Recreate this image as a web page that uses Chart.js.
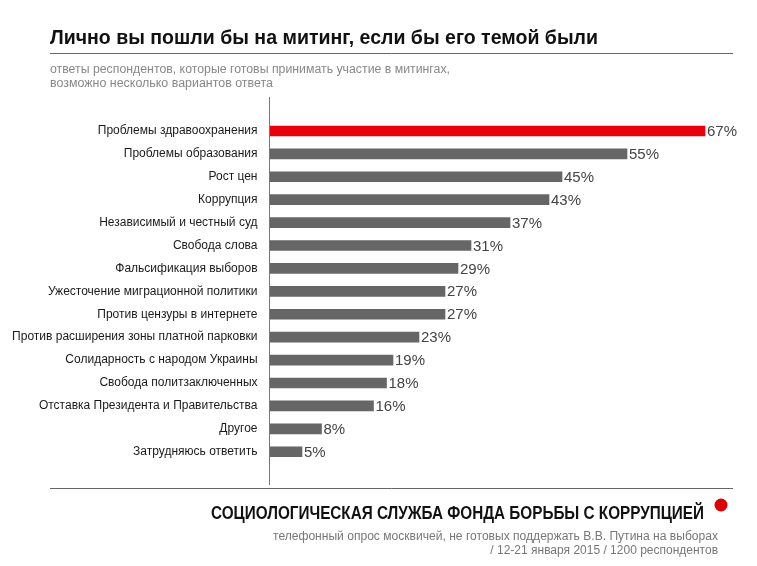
<!DOCTYPE html>
<html>
<head>
<meta charset="utf-8">
<script src="https://cdn.jsdelivr.net/npm/chart.js@4"></script>
<style>
  html, body { margin: 0; padding: 0; background: #fff; }
  #wrap { width: 757px; height: 566px; }
</style>
</head>
<body>
<div id="wrap"><canvas id="rallyChart" width="757" height="566"></canvas></div>
<script>
const categories = [
    "Проблемы здравоохранения",
    "Проблемы образования",
    "Рост цен",
    "Коррупция",
    "Независимый и честный суд",
    "Свобода слова",
    "Фальсификация выборов",
    "Ужесточение миграционной политики",
    "Против цензуры в интернете",
    "Против расширения зоны платной парковки",
    "Солидарность с народом Украины",
    "Свобода политзаключенных",
    "Отставка Президента и Правительства",
    "Другое",
    "Затрудняюсь ответить"
];
const values = [67, 55, 45, 43, 37, 31, 29, 27, 27, 23, 19, 18, 16, 8, 5];

const titleText = "Лично вы пошли бы на митинг, если бы его темой были";
const subtitleLines = [
    "ответы респондентов, которые готовы принимать участие в митингах,",
    "возможно несколько вариантов ответа"
];
const orgText = "СОЦИОЛОГИЧЕСКАЯ СЛУЖБА ФОНДА БОРЬБЫ С КОРРУПЦИЕЙ";
const noteLines = [
    "телефонный опрос москвичей, не готовых поддержать В.В. Путина на выборах",
    "/ 12-21 января 2015 / 1200 респондентов"
];

const RED = "#e8000c";
const GREY = "#666666";
const FONT = "'Liberation Sans', Arial, sans-serif";

// draw text squeezed/stretched to a given width
function fitText(ctx, text, x, y, w, alignRight) {
    const m = ctx.measureText(text).width;
    ctx.save();
    ctx.translate(alignRight ? x - w : x, y);
    ctx.scale(w / m, 1);
    ctx.textAlign = "left";
    ctx.fillText(text, 0, 0);
    ctx.restore();
}

const decor = {
    id: "decor",
    afterDatasetsDraw(chart) {
        const ctx = chart.ctx;
        const xs = chart.scales.x;
        ctx.save();

        // value labels
        ctx.fillStyle = "#444";
        ctx.font = "15px " + FONT;
        ctx.textBaseline = "middle";
        ctx.textAlign = "left";
        chart.getDatasetMeta(0).data.forEach((bar, i) => {
            ctx.fillText(values[i] + "%", bar.x + 2, bar.y + 1);
        });

        // axis line
        const x0 = Math.round(xs.getPixelForValue(0)) - 0.5;
        ctx.strokeStyle = "#777";
        ctx.lineWidth = 1;
        ctx.beginPath();
        ctx.moveTo(x0, 97);
        ctx.lineTo(x0, 485);
        ctx.stroke();

        // rules
        ctx.strokeStyle = "#666";
        ctx.beginPath();
        ctx.moveTo(50, 53.5); ctx.lineTo(733, 53.5);
        ctx.moveTo(50, 488.5); ctx.lineTo(733, 488.5);
        ctx.stroke();

        // title
        ctx.textBaseline = "alphabetic";
        ctx.fillStyle = "#111";
        ctx.font = "bold 20px " + FONT;
        fitText(ctx, titleText, 50, 44, 548, false);

        // subtitle
        ctx.fillStyle = "#888";
        ctx.font = "12px " + FONT;
        fitText(ctx, subtitleLines[0], 50, 73, 400, false);
        fitText(ctx, subtitleLines[1], 50, 87, 223, false);

        // footer
        ctx.fillStyle = "#111";
        ctx.font = "bold 19px " + FONT;
        fitText(ctx, orgText, 211, 519, 493, false);

        ctx.fillStyle = "#dd0000";
        ctx.beginPath();
        ctx.arc(721, 505, 6.5, 0, Math.PI * 2);
        ctx.fill();

        ctx.fillStyle = "#777";
        ctx.font = "12px " + FONT;
        fitText(ctx, noteLines[0], 718, 540, 445, true);
        ctx.textAlign = "right";
        ctx.fillText(noteLines[1], 718, 554);

        ctx.restore();
    }
};

new Chart(document.getElementById("rallyChart"), {
    type: "bar",
    data: {
        labels: categories,
        datasets: [{
            data: values,
            backgroundColor: ctx => ctx.dataIndex === 0 ? RED : GREY,
            barThickness: 10
        }]
    },
    options: {
        indexAxis: "y",
        responsive: false,
        animation: false,
        layout: { padding: { top: 119.5, bottom: 102.8, left: 0, right: 32.5 } },
        plugins: { legend: { display: false }, tooltip: { enabled: false } },
        scales: {
            x: { display: false, min: 0, max: 70 },
            y: {
                afterFit: s => { s.width = 269.5; },
                grid: { display: false },
                border: { display: false },
                ticks: {
                    color: "#1a1a1a",
                    padding: 4,
                    font: { family: FONT, size: 12 }
                }
            }
        }
    },
    plugins: [decor]
});
</script>
</body>
</html>
